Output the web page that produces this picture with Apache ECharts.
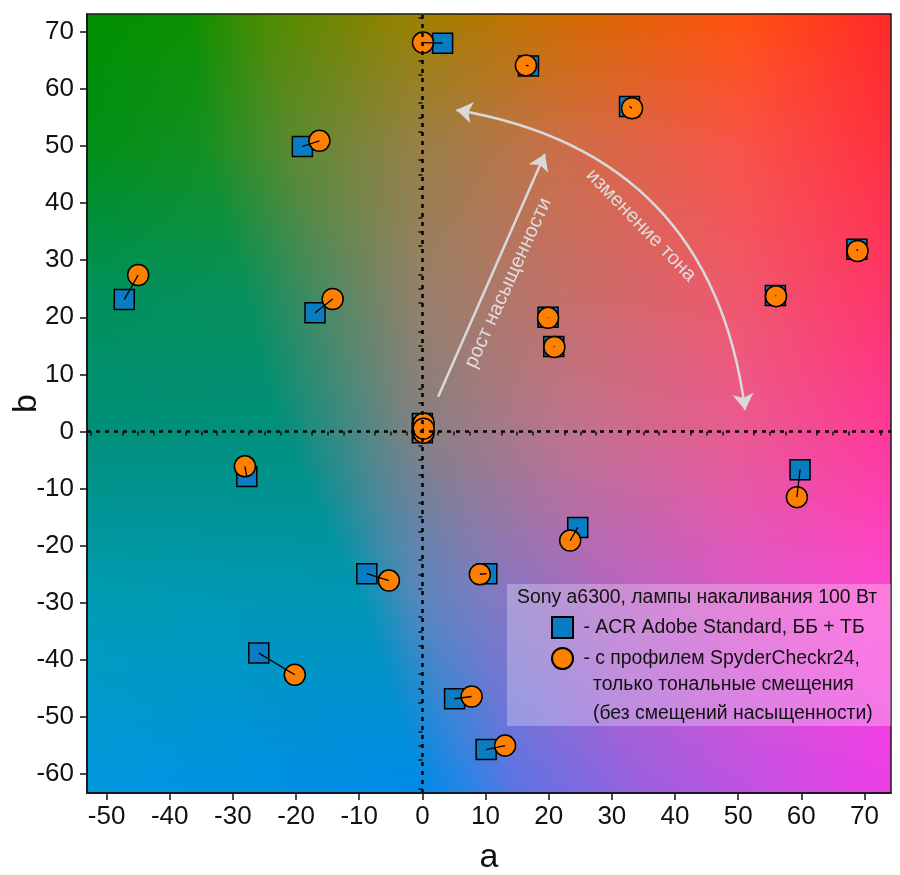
<!DOCTYPE html>
<html>
<head>
<meta charset="utf-8">
<title>a*b*</title>
<script src="https://cdn.jsdelivr.net/npm/echarts@6/dist/echarts.min.js"></script>
<style>
	html,body{margin:0;padding:0;background:#fff;}
	#main{width:900px;height:875px;}
</style>
</head>
<body>
<div id="main"></div>
<script>
//ACR Adobe Standard, ББ + ТБ (квадраты)
var acrA = [-47.2, -19.0, -17.0, 3.2, 16.8, 32.8, 19.9, 20.8, 55.9, 68.8, -27.8, -8.8, -25.9, 10.2, 24.6, 59.8, 5.1, 10.1, 0.0, 0.0, 0.1];
var acrB = [23.1, 49.9, 20.8, 68.0, 64.0, 56.9, 20.0, 14.9, 23.8, 31.9, -7.9, -24.9, -38.8, -24.9, -16.8, -6.7, -46.8, -55.7, 1.4, -0.2, 0.6];
//профиль SpyderCheckr24 (кружки)
var spyA = [-45.0, -16.3, -14.2, 0.1, 16.4, 33.2, 19.9, 20.9, 56.0, 68.9, -28.1, -5.3, -20.2, 9.1, 23.4, 59.3, 7.8, 13.1, 0.2, 0.2, 0.2];
var spyB = [27.4, 50.9, 23.2, 68.1, 64.1, 56.6, 19.9, 14.8, 23.7, 31.6, -6.1, -26.1, -42.6, -25.0, -19.1, -11.5, -46.4, -55.0, 1.4, -0.2, 0.5];

//деления осей
var xTicks = [-50, -40, -30, -20, -10, 0, 10, 20, 30, 40, 50, 60, 70];
var yTicks = [-60, -50, -40, -30, -20, -10, 0, 10, 20, 30, 40, 50, 60, 70];
var xMin = -53.1, xMax = 74.2, yMin = -63.3, yMax = 73.1;

//стрелки-подписи
var satArrow = [[2.5, 6.1], [19.4, 48.6]];
var hueArrow = [[5.4, 56.3], [51.1, 3.8]];
var satText = 'рост насыщенности', satPos = [13.6, 26.0];
var hueText = 'изменение тона', huePos = [34.6, 36.1];

var legendTitle = 'Sony a6300, лампы накаливания 100 Вт';
var acrName = 'ACR Adobe Standard, ББ + ТБ';
var spyName = 'с профилем SpyderCheckr24,';
var spyExtra = ['только тональные смещения', '(без смещений насыщенности)'];

function minorOf(major, lo, hi){
	var out = [];
	for (var v = Math.ceil(lo / 2.5) * 2.5; v <= hi; v += 2.5) {
		if (major.indexOf(v) < 0) out.push(v);
	}
	return out;
}

var links = [];
for (var i = 0; i < acrA.length; i++) {
	links.push({coords: [[acrA[i], acrB[i]], [spyA[i], spyB[i]]]});
}
var acrData = acrA.map(function(v, i){ return [v, acrB[i]]; });
var spyData = spyA.map(function(v, i){ return [v, spyB[i]]; });

var fontName = 'Arial, "Liberation Sans", sans-serif';

var myChart = echarts.init(document.getElementById('main'));
var option = {
	animation: false,
	backgroundColor: '#fff',
	grid: {
		left: 87, right: 9, top: 14, bottom: 82,
		outerBoundsMode: 'none', containLabel: false,
		show: true, borderColor: '#1a1a1a', borderWidth: 1.5,
		backgroundColor: 'transparent'
	},
	legend: {
		data: [acrName, spyName],
		orient: 'vertical',
		left: 551, top: 616,
		padding: 0,
		itemWidth: 21, itemHeight: 21, itemGap: 8,
		textStyle: {fontSize: 19.4, color: '#111', fontFamily: fontName},
		formatter: function(name){ return ' - ' + name; }
	},
	xAxis: [{
		type: 'value', min: xMin, max: xMax,
		name: 'a', nameLocation: 'middle', nameGap: 48, nameMoveOverlap: false,
		nameTextStyle: {fontSize: 34, color: '#111', fontFamily: fontName},
		splitLine: {show: false},
		axisLine: {show: true, onZero: false, lineStyle: {color: '#111', width: 1.5}},
		axisTick: {show: true, length: 7, customValues: xTicks, lineStyle: {color: '#111', width: 1.5}},
		axisLabel: {customValues: xTicks, fontSize: 26, color: '#111', margin: 11, fontFamily: fontName}
	}, {
		type: 'value', min: xMin, max: xMax, position: 'bottom',
		splitLine: {show: false}, axisLabel: {show: false},
		axisLine: {show: false},
		axisTick: {show: true, length: 4, customValues: minorOf(xTicks, xMin, xMax), lineStyle: {color: '#111', width: 1.5}}
	}],
	yAxis: [{
		type: 'value', min: yMin, max: yMax,
		name: 'b', nameLocation: 'middle', nameGap: 43, nameMoveOverlap: false,
		nameTextStyle: {fontSize: 34, color: '#111', fontFamily: fontName},
		splitLine: {show: false},
		axisLine: {show: true, onZero: false, lineStyle: {color: '#111', width: 1.5}},
		axisTick: {show: true, length: 7, customValues: yTicks, lineStyle: {color: '#111', width: 1.5}},
		axisLabel: {customValues: yTicks, fontSize: 26, color: '#111', margin: 13, fontFamily: fontName}
	}, {
		type: 'value', min: yMin, max: yMax, position: 'left',
		splitLine: {show: false}, axisLabel: {show: false},
		axisLine: {show: false},
		axisTick: {show: true, length: 4, customValues: minorOf(yTicks, yMin, yMax), lineStyle: {color: '#111', width: 1.5}}
	}],
	series: [
		{
			//нулевые линии
			type: 'scatter', name: 'zero', z: 1,
			data: [[0, 0]], symbolSize: 0, silent: true,
			markLine: {
				silent: true, symbol: 'none', label: {show: false},
				lineStyle: {color: '#000', type: [4, 5], width: 2.5},
				data: [{xAxis: 0}, {yAxis: 0}]
			}
		},
		{
			type: 'lines', name: 'arrows', coordinateSystem: 'cartesian2d', z: 2, silent: true,
			lineStyle: {color: '#d9d9d9', width: 2.5, opacity: 1},
			symbolSize: 16,
			data: [
				{coords: satArrow, symbol: ['none', 'arrow']},
				{coords: hueArrow, symbol: ['arrow', 'arrow'], lineStyle: {curveness: 0.37}}
			]
		},
		{
			type: 'scatter', name: acrName, z: 3,
			symbol: 'rect', symbolSize: 20,
			itemStyle: {color: '#0a7cc1', borderColor: '#000', borderWidth: 1.5, opacity: 1},
			data: acrData
		},
		{
			type: 'scatter', name: spyName, z: 4,
			symbol: 'circle', symbolSize: 21,
			itemStyle: {color: '#ff8000', borderColor: '#000', borderWidth: 1.5, opacity: 1},
			data: spyData
		},
		{
			type: 'lines', name: 'links', coordinateSystem: 'cartesian2d', z: 5, silent: true,
			lineStyle: {color: '#000', width: 1.3, opacity: 1},
			data: links
		}
	]
};
myChart.setOption(option);

//фон: цветовое поле a*b*
var bgRows = [
	{y: 0.00, s: [[0, '#009000'], [0.128, '#0c9000'], [0.215, '#4a8c00'], [0.415, '#9e8000'], [0.59, '#d06c00'], [0.81, '#ff5210'], [1, '#ff2a2a']]},
	{y: 0.17, s: [[0, '#008f18'], [0.141, '#129020'], [0.253, '#5a8a30'], [0.415, '#988048'], [0.59, '#cc6e48'], [0.81, '#f85448'], [1, '#ff3040']]},
	{y: 0.354, s: [[0, '#00905a'], [0.195, '#08905a'], [0.29, '#4a8a60'], [0.415, '#968068'], [0.59, '#c47068'], [0.81, '#f0586a'], [1, '#ff3468']]},
	{y: 0.536, s: [[0, '#008f78'], [0.24, '#00907c'], [0.34, '#4c8884'], [0.415, '#868082'], [0.59, '#bc748c'], [0.81, '#ea5a90'], [1, '#ff3898']]},
	{y: 0.751, s: [[0, '#009cb4'], [0.34, '#0096b6'], [0.415, '#5a86bc'], [0.49, '#7a7cc4'], [0.64, '#b066c4'], [0.81, '#dc56cc'], [1, '#ff48d4']]},
	{y: 1.00, s: [[0, '#0098e0'], [0.415, '#008ae8'], [0.477, '#2884e8'], [0.539, '#6072e4'], [0.688, '#9a60e0'], [0.838, '#c450e4'], [1, '#ec3ce8']]}
];

function hexRgb(h){
	return [parseInt(h.substr(1, 2), 16), parseInt(h.substr(3, 2), 16), parseInt(h.substr(5, 2), 16)];
}
function mix(c1, c2, t){
	var a = hexRgb(c1), b = hexRgb(c2);
	return 'rgb(' + Math.round(a[0] + (b[0] - a[0]) * t) + ',' + Math.round(a[1] + (b[1] - a[1]) * t) + ',' + Math.round(a[2] + (b[2] - a[2]) * t) + ')';
}
function rowAt(fy){
	var k = 0;
	while (k < bgRows.length - 2 && fy > bgRows[k + 1].y) k++;
	var r0 = bgRows[k], r1 = bgRows[k + 1];
	var t = Math.max(0, Math.min(1, (fy - r0.y) / (r1.y - r0.y)));
	return r0.s.map(function(st, j){
		return {offset: st[0] + (r1.s[j][0] - st[0]) * t, color: mix(st[1], r1.s[j][1], t)};
	});
}

var cs = {xAxisIndex: 0, yAxisIndex: 0};
var tl = myChart.convertToPixel(cs, [xMin, yMax]);
var br = myChart.convertToPixel(cs, [xMax, yMin]);
var gw = br[0] - tl[0], gh = br[1] - tl[1];

var graphics = [];
var strips = 160, sh = gh / strips;
for (var k = 0; k < strips; k++) {
	graphics.push({
		type: 'rect', z: -1, silent: true,
		shape: {x: tl[0], y: tl[1] + k * sh, width: gw, height: sh + 1},
		style: {fill: new echarts.graphic.LinearGradient(0, 0, 1, 0, rowAt((k + 0.5) / strips))}
	});
}

var sp = myChart.convertToPixel(cs, satPos);
var hp = myChart.convertToPixel(cs, huePos);
graphics.push({
	type: 'text', z: 6, silent: true, x: sp[0], y: sp[1], rotation: 65.6 * Math.PI / 180,
	style: {text: satText, fill: '#dedede', font: '20px ' + fontName, align: 'center', verticalAlign: 'middle'}
});
graphics.push({
	type: 'text', z: 6, silent: true, x: hp[0], y: hp[1], rotation: -45.8 * Math.PI / 180,
	style: {text: hueText, fill: '#dedede', font: '20px ' + fontName, align: 'center', verticalAlign: 'middle'}
});

//легенда: подложка и подписи
graphics.push({
	type: 'rect', z: 3, silent: true,
	shape: {x: 507, y: 584, width: br[0] - 507, height: 142},
	style: {fill: 'rgba(255,255,255,0.28)'}
});
graphics.push({
	type: 'text', z: 6, silent: true, x: 517, y: 598,
	style: {text: legendTitle, fill: '#111', font: '19.4px ' + fontName, verticalAlign: 'middle'}
});
spyExtra.forEach(function(t, j){
	graphics.push({
		type: 'text', z: 6, silent: true, x: 593, y: 685 + j * 29,
		style: {text: t, fill: '#111', font: '19.4px ' + fontName, verticalAlign: 'middle'}
	});
});

myChart.setOption({graphic: graphics});
</script>
</body>
</html>
